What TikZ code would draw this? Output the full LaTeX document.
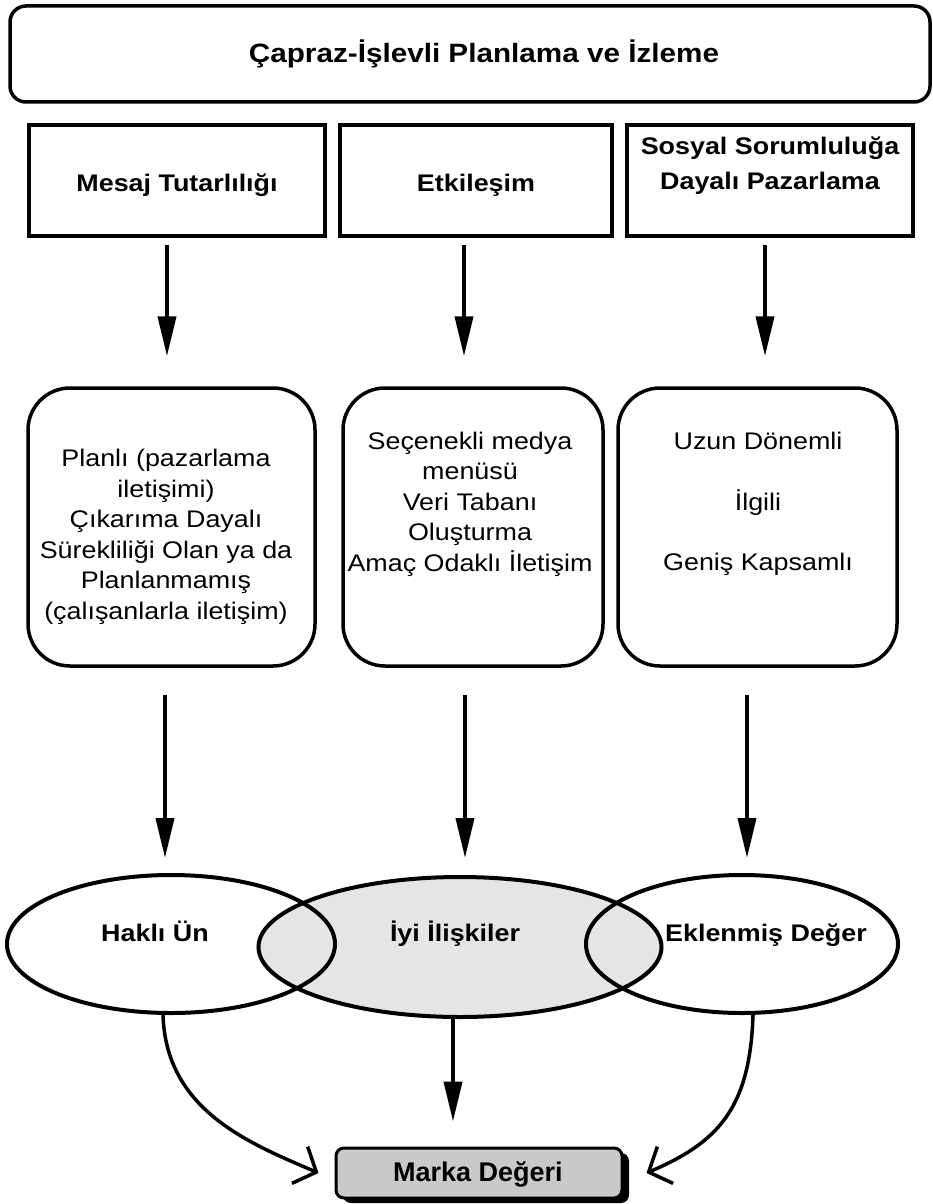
\documentclass[tikz,border=0pt]{standalone}
\usepackage{fontspec}
\setmainfont{Liberation Sans}[FakeStretch=1.12]
\newfontfamily\brandfont{Liberation Sans}
\usetikzlibrary{arrows.meta,shapes.geometric,shadows}

\begin{document}
\begin{tikzpicture}[x=1pt,y=-1pt,
  font=\fontsize{24}{30}\selectfont,
  boxline/.style={draw=black, line width=3.5pt},
  headbox/.style={boxline, rounded corners=16pt, inner sep=0pt, minimum width=920pt, minimum height=96pt},
  themebox/.style={boxline, inner sep=0pt, minimum height=111pt},
  detailbox/.style={boxline, rounded corners=42pt, inner sep=0pt, minimum height=278pt},
  outcome/.style={ellipse, draw=black, line width=4pt, inner sep=0pt, minimum height=138pt},
  boldlabel/.style={inner sep=0pt, font=\fontsize{24}{35}\selectfont\bfseries, align=center},
  bodytext/.style={inner sep=0pt, align=center, font=\fontsize{24}{30.5}\selectfont},
  flow/.style={line width=4pt, -{Triangle[length=40pt,width=18pt]}},
  merge/.style={line width=3.5pt, -{Straight Barb[length=18pt,width=40pt,line width=3.5pt]}},
]
\fill[white] (0,0) rectangle (933,1204);
\useasboundingbox (0,0) rectangle (933,1204);

% header
\node[headbox] (plan) at (470,54) {};
\node[boldlabel, font=\fontsize{26.5}{32}\selectfont\bfseries] (planT) at (484,54) {Çapraz-İşlevli Planlama ve İzleme};

% three themes
\node[themebox, minimum width=296pt] (m1) at (177,180.5) {};
\node[themebox, minimum width=272pt] (m2) at (476,180.5) {};
\node[themebox, minimum width=286pt] (m3) at (770,180.5) {};
\node[boldlabel, anchor=base] (m1T) at (177,191.5) {Mesaj Tutarlılığı};
\node[boldlabel, anchor=base] (m2T) at (476,191.5) {Etkileşim};
\node[boldlabel] (m3T) at (770,165.5) {Sosyal Sorumluluğa\\Dayalı Pazarlama};

% details
\node[detailbox, minimum width=287pt] (r1) at (171.5,527) {};
\node[detailbox, minimum width=260pt] (r2) at (473,527) {};
\node[detailbox, minimum width=279pt] (r3) at (757.5,527) {};
\node[bodytext] (r1T) at (166,537) {Planlı (pazarlama\\iletişimi)\\Çıkarıma Dayalı\\Sürekliliği Olan ya da\\Planlanmamış\\(çalışanlarla iletişim)};
\node[bodytext] (r2T) at (470,504) {Seçenekli medya\\menüsü\\Veri Tabanı\\Oluşturma\\Amaç Odaklı İletişim};
\node[bodytext] (r3T) at (758,504) {Uzun Dönemli\\[30pt]İlgili\\[30pt]Geniş Kapsamlı};

% outcomes
\node[outcome, fill=gray!20, minimum width=403pt, minimum height=140pt] (e2) at (460,947) {};
\node[outcome, minimum width=328pt] (e1) at (171,944) {};
\node[outcome, minimum width=312pt] (e3) at (742,944) {};
\node[boldlabel, anchor=base] (e1T) at (155,941.5) {Haklı Ün};
\node[boldlabel, anchor=base] (e2T) at (455,941.5) {İyi İlişkiler};
\node[boldlabel, anchor=base] (e3T) at (766,941.5) {Eklenmiş Değer};

% brand value
\node[boxline, line width=3pt, rounded corners=8pt, fill=gray!42, inner sep=0pt,
      minimum width=286pt, minimum height=50pt,
      drop shadow={shadow xshift=7pt, shadow yshift=-5pt, fill=black, opacity=1}] (mv) at (479,1173) {};
\node[inner sep=0pt, anchor=base, font=\brandfont\fontsize{27}{30}\selectfont\bfseries] (mvT) at (478,1181) {Marka Değeri};

% arrows: themes to details
\draw[flow] ([xshift=-10pt,yshift=-7pt]m1.south) -- ([xshift=-4.5pt,yshift=30pt]r1.north);
\draw[flow] ([xshift=-12pt,yshift=-7pt]m2.south) -- ([xshift=-9pt,yshift=30pt]r2.north);
\draw[flow] ([xshift=-5pt,yshift=-7pt]m3.south) -- ([xshift=7.5pt,yshift=30pt]r3.north);

% arrows: details to outcomes
\draw[flow] ([xshift=-6.5pt,yshift=-27pt]r1.south) -- ([xshift=-6pt,yshift=15pt]e1.north);
\draw[flow] ([xshift=-8pt,yshift=-27pt]r2.south) -- ([xshift=5pt,yshift=17pt]e2.north);
\draw[flow] ([xshift=-10.5pt,yshift=-27pt]r3.south) -- ([xshift=5pt,yshift=15pt]e3.north);

% arrows: outcomes to brand value
\draw[flow] ([xshift=-7pt]e2.south) -- ([xshift=-26pt,yshift=25pt]mv.north);
\draw[merge] ([xshift=-8pt]e1.south) .. controls +(3,95) and +(-70,-30) .. ([xshift=-16pt]mv.west);
\draw[merge] ([xshift=11pt]e3.south) .. controls +(-3,95) and +(70,-30) .. ([xshift=23pt]mv.east);
\end{tikzpicture}
\end{document}
